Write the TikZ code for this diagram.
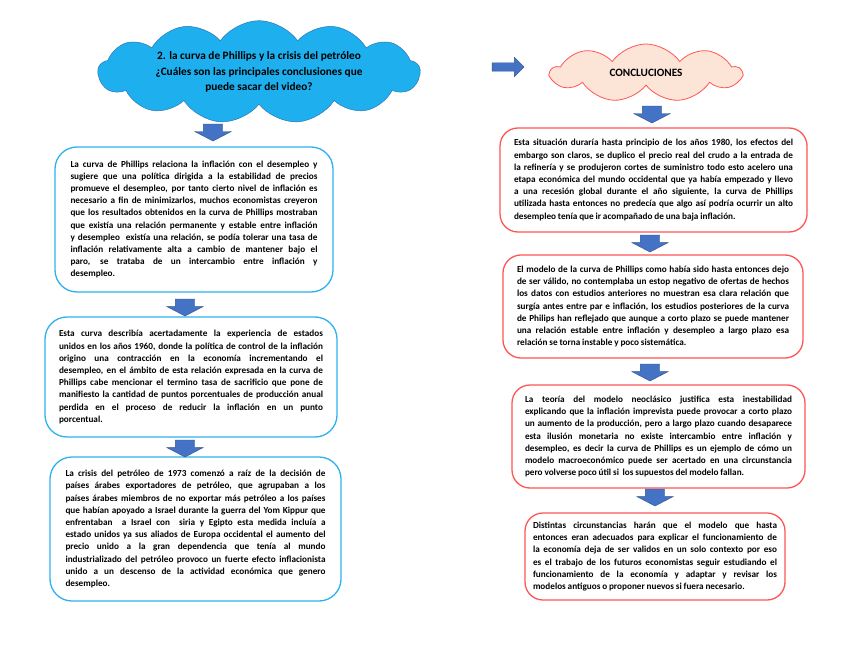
\documentclass[tikz,border=0pt]{standalone}
\usepackage{fontspec}
\setmainfont{Carlito}
\usetikzlibrary{shapes.symbols,shapes.arrows}
\definecolor{skyfill}{RGB}{30,176,238}
\definecolor{skyline}{RGB}{46,117,182}
\definecolor{cyanline}{RGB}{45,178,240}
\definecolor{redline}{RGB}{255,85,85}
\definecolor{peach}{RGB}{252,228,214}
\definecolor{arrowblue}{RGB}{68,114,196}
\definecolor{arrowedge}{RGB}{47,82,143}
\newcommand{\bodyfont}{\fontsize{9.2}{12.2}\selectfont\bfseries
  \spaceskip=0.2em plus 0.5em minus 0.08em\relax}

\begin{document}
\begin{tikzpicture}[x=1pt,y=-1pt,
  bodytext/.style={align=justify,inner sep=0pt,font=\bodyfont},
  leftbox/.style={bodytext,draw=cyanline,line width=1.3pt,rounded corners=22pt},
  rightbox/.style={bodytext,draw=redline,line width=1.3pt,rounded corners=18pt},
  downarrow/.style={single arrow,shape border rotate=270,fill=arrowblue,draw=arrowedge,line width=0.4pt,
    inner xsep=9.5pt,inner ysep=0pt,minimum width=36pt,minimum height=17pt,single arrow head extend=8.5pt,single arrow tip angle=125},
  rightarrow/.style={single arrow,fill=arrowblue,draw=arrowedge,line width=0.4pt,
    inner ysep=4pt,inner xsep=0pt,minimum width=19pt,minimum height=32pt,single arrow head extend=5.5pt,single arrow tip angle=90}]
\useasboundingbox[fill=white] (0,0) rectangle (848,655);

% clouds
\node[cloud,cloud puffs=13,cloud puff arc=110,cloud ignores aspect,minimum width=322pt,minimum height=78pt,
  fill=skyfill,draw=skyline,line width=0.5pt,align=center,font=\fontsize{11.3}{15.5}\selectfont\bfseries]
  (question) at (259,72) {2. la curva de Phillips y la crisis del petróleo\\ ¿Cuáles son las principales conclusiones que\\ puede sacar del video?};
\node[cloud,cloud puffs=9,cloud puff arc=110,cloud ignores aspect,minimum width=190pt,minimum height=58pt,
  fill=peach,draw=redline,line width=0.8pt,font=\fontsize{11.2}{13}\selectfont\bfseries]
  (concl) at (646,73) {CONCLUCIONES};
\node[rightarrow] (toconcl) at (506,67) {};

% left column
\node[leftbox,text width=247pt,minimum width=278pt,minimum height=145pt] (phillips) at (194,219.5)
{La curva de Phillips relaciona la inflación con el desempleo y\linebreak
sugiere que una política dirigida a la estabilidad de precios\linebreak
promueve el desempleo, por tanto cierto nivel de inflación es\linebreak
necesario a fin de minimizarlos, muchos economistas creyeron\linebreak
que los resultados obtenidos en la curva de Phillips mostraban\linebreak
que existía una relación permanente y estable entre inflación\linebreak
y desempleo\ \ existía una relación, se podía tolerar una tasa de\linebreak
inflación relativamente alta a cambio de mantener bajo el\linebreak
paro, se trataba de un intercambio entre inflación y\linebreak
desempleo.};
\node[leftbox,text width=264pt,minimum width=292pt,minimum height=120pt] (sacrificio) at (191,377)
{Esta curva describía acertadamente la experiencia de estados\linebreak
unidos en los años 1960, donde la política de control de la inflación\linebreak
origino una contracción en la economía incrementando el\linebreak
desempleo, en el ámbito de esta relación expresada en la curva de\linebreak
Phillips cabe mencionar el termino tasa de sacrificio que pone de\linebreak
manifiesto la cantidad de puntos porcentuales de producción anual\linebreak
perdida en el proceso de reducir la inflación en un punto\linebreak
porcentual.};
\node[leftbox,text width=260pt,minimum width=291pt,minimum height=144pt] (crisis) at (195.5,529)
{La crisis del petróleo de 1973 comenzó a raíz de la decisión de\linebreak
países árabes exportadores de petróleo, que agrupaban a los\linebreak
países árabes miembros de no exportar más petróleo a los países\linebreak
que habían apoyado a Israel durante la guerra del Yom Kippur que\linebreak
enfrentaban\ \ a Israel con\ \ siria y Egipto esta medida incluía a\linebreak
estado unidos ya sus aliados de Europa occidental el aumento del\linebreak
precio unido a la gran dependencia que tenía al mundo\linebreak
industrializado del petróleo provoco un fuerte efecto inflacionista\linebreak
unido a un descenso de la actividad económica que genero\linebreak
desempleo.};

\node[downarrow] (a1) at (213,130) {};
\node[downarrow] (a2) at (185,305) {};
\node[downarrow] (a3) at (185,446) {};

% right column
\node[rightbox,text width=279pt,minimum width=307pt,minimum height=104pt] (embargo) at (653.5,180)
{Esta situación duraría hasta principio de los años 1980, los efectos del\linebreak
embargo son claros, se duplico el precio real del crudo a la entrada de\linebreak
la refinería y se produjeron cortes de suministro todo esto acelero una\linebreak
etapa económica del mundo occidental que ya había empezado y llevo\linebreak
a una recesión global durante el año siguiente, la curva de Phillips\linebreak
utilizada hasta entonces no predecía que algo así podría ocurrir un alto\linebreak
desempleo tenía que ir acompañado de una baja inflación.};
\node[rightbox,text width=272pt,minimum width=300pt,minimum height=103pt] (modelo) at (653,306.5)
{El modelo de la curva de Phillips como había sido hasta entonces dejo\linebreak
de ser válido, no contemplaba un estop negativo de ofertas de hechos\linebreak
los datos con estudios anteriores no muestran esa clara relación que\linebreak
surgía antes entre par e inflación, los estudios posteriores de la curva\linebreak
de Philips han reflejado que aunque a corto plazo se puede mantener\linebreak
una relación estable entre inflación y desempleo a largo plazo esa\linebreak
relación se torna instable y poco sistemática.};
\node[rightbox,text width=267pt,minimum width=293pt,minimum height=103pt] (teoria) at (658.5,436.5)
{La teoría del modelo neoclásico justifica esta inestabilidad\linebreak
explicando que la inflación imprevista puede provocar a corto plazo\linebreak
un aumento de la producción, pero a largo plazo cuando desaparece\linebreak
esta ilusión monetaria no existe intercambio entre inflación y\linebreak
desempleo, es decir la curva de Phillips es un ejemplo de cómo un\linebreak
modelo macroeconómico puede ser acertado en una circunstancia\linebreak
pero volverse poco útil si\ \ los supuestos del modelo fallan.};
\node[rightbox,text width=244pt,minimum width=260pt,minimum height=87pt] (distintas) at (655,556.5)
{Distintas circunstancias harán que el modelo que hasta\linebreak
entonces eran adecuados para explicar el funcionamiento de\linebreak
la economía deja de ser validos en un solo contexto por eso\linebreak
es el trabajo de los futuros economistas seguir estudiando el\linebreak
funcionamiento de la economía y adaptar y revisar los\linebreak
modelos antiguos o proponer nuevos si fuera necesario.};

\node[downarrow] (b1) at (652,112) {};
\node[downarrow] (b2) at (650,241) {};
\node[downarrow] (b3) at (650,370) {};
\node[downarrow] (b4) at (655,495) {};
\end{tikzpicture}
\end{document}
